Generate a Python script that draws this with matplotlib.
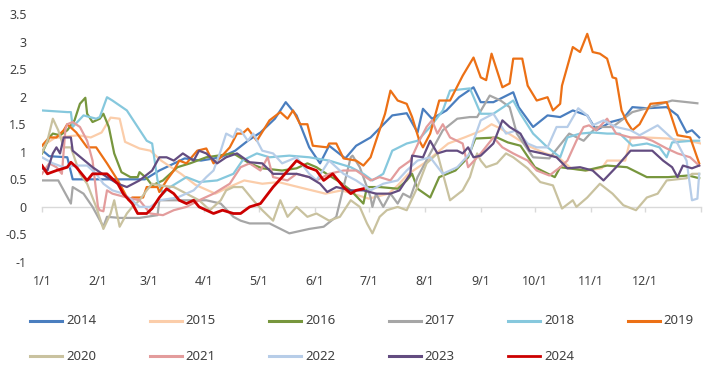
import matplotlib
matplotlib.use('Agg')
import matplotlib.pyplot as plt
from matplotlib.lines import Line2D

month_labels = ['1/1', '2/1', '3/1', '4/1', '5/1', '6/1', '7/1', '8/1',
                '9/1', '10/1', '11/1', '12/1']
month_start = [0, 31, 59, 90, 120, 151, 181, 212, 243, 273, 304, 334]

# day of year / value pairs per year
d2014 = [0, 4, 14, 17, 21, 57, 65, 79, 88, 99, 107, 114, 121, 129, 135, 141, 148, 154, 159, 168,
         174, 182, 194, 202, 208, 211, 216, 224, 231, 239, 243, 250, 261, 264, 272, 280, 287, 294,
         302, 307, 315, 322, 327, 335, 346, 352, 357, 360, 364]
v2014 = [1.03, 0.92, 0.9, 0.5, 0.5, 0.5, 0.66, 0.88, 0.84, 0.9, 1.02, 1.2, 1.35, 1.6, 1.9, 1.66,
         1.08, 0.79, 1.11, 0.88, 1.11, 1.26, 1.66, 1.7, 1.35, 1.78, 1.6, 1.75, 1.99, 2.17, 1.9, 1.9,
         2.08, 1.81, 1.45, 1.66, 1.63, 1.75, 1.66, 1.39, 1.54, 1.6, 1.81, 1.79, 1.81, 1.66, 1.35,
         1.39, 1.26]

d2015 = [0, 7, 20, 27, 33, 38, 43, 46, 54, 60, 66, 77, 85, 96, 103, 112, 122, 131, 142, 157, 166,
         181, 192, 197, 203, 212, 225, 234, 244, 249, 254, 262, 269, 279, 286, 293, 302, 310, 313,
         323, 326, 334, 347, 358, 365]
v2015 = [1.1, 1.25, 1.3, 1.26, 1.35, 1.62, 1.6, 1.18, 1.06, 1.02, 0.84, 0.6, 0.4, 0.24, 0.35, 0.48,
         0.42, 0.45, 0.36, 0.24, 0.3, 0.15, 0.24, 0.39, 0.6, 0.8, 1.15, 1.26, 1.39, 1.5, 1.42, 1.26,
         1.11, 0.97, 0.9, 0.7, 0.66, 0.7, 0.84, 0.84, 1.24, 1.26, 1.24, 1.2, 1.15]

d2016 = [0, 4, 6, 10, 14, 18, 21, 24, 25, 28, 32, 34, 37, 40, 44, 49, 53, 54, 58, 61, 67, 75, 82,
         91, 106, 115, 122, 133, 141, 147, 152, 159, 165, 171, 178, 180, 187, 197, 202, 205, 208,
         215, 220, 229, 236, 240, 252, 258, 265, 273, 284, 287, 301, 313, 324, 335, 347, 358, 364]
v2016 = [0.97, 1.26, 1.33, 1.3, 1.39, 1.57, 1.87, 1.98, 1.69, 1.54, 1.6, 1.69, 1.45, 0.97, 0.63,
         0.54, 0.54, 0.63, 0.52, 0.39, 0.48, 0.72, 0.79, 0.9, 0.97, 0.79, 0.7, 0.66, 0.7, 0.79, 0.72,
         0.57, 0.45, 0.3, 0.06, 0.36, 0.36, 0.33, 0.48, 0.6, 0.33, 0.17, 0.54, 0.66, 0.9, 1.24, 1.26,
         1.17, 1.11, 0.72, 0.54, 0.72, 0.66, 0.75, 0.72, 0.54, 0.54, 0.57, 0.52]

d2017 = [0, 9, 16, 17, 23, 28, 34, 36, 43, 54, 64, 65, 91, 99, 106, 110, 115, 126, 137, 148, 156,
         163, 167, 171, 172, 176, 180, 182, 183, 185, 189, 193, 197, 200, 204, 208, 215, 222, 230,
         237, 241, 248, 254, 259, 263, 272, 281, 292, 300, 307, 316, 327, 335, 349, 363]
v2017 = [0.48, 0.48, 0.06, 0.36, 0.24, 0.0, -0.36, -0.18, -0.2, -0.2, -0.15, 0.12, 0.12, 0.06,
         -0.18, -0.25, -0.3, -0.3, -0.48, -0.4, -0.36, -0.18, 0.36, 0.9, 0.93, 0.72, 0.36, 0.17, 0.0,
         0.24, 0.0, 0.24, 0.06, 0.24, 0.17, 0.54, 0.97, 1.39, 1.6, 1.63, 1.63, 2.02, 1.93, 1.81, 1.33,
         0.9, 0.88, 1.33, 1.2, 1.45, 1.45, 1.72, 1.79, 1.93, 1.88]

d2018 = [0, 14, 16, 17, 23, 30, 32, 36, 39, 47, 58, 61, 64, 67, 71, 80, 87, 97, 106, 111, 119, 126,
         137, 148, 159, 171, 178, 183, 189, 194, 202, 208, 215, 222, 226, 237, 243, 250, 261, 265,
         272, 280, 287, 291, 298, 305, 313, 320, 327, 335, 342, 346, 349, 360, 364]
v2018 = [1.75, 1.72, 1.72, 1.45, 1.66, 1.6, 1.63, 1.99, 1.93, 1.75, 1.2, 1.15, 0.48, 0.24, 0.36,
         0.54, 0.45, 0.48, 0.6, 0.84, 0.97, 0.9, 0.93, 0.9, 0.84, 0.72, 0.6, 0.48, 0.6, 1.02, 1.15,
         1.2, 1.45, 1.75, 2.11, 2.15, 1.69, 1.69, 1.93, 1.69, 1.33, 1.08, 0.9, 1.26, 1.33, 1.35, 1.33,
         1.33, 1.11, 1.15, 1.08, 0.9, 1.17, 1.2, 1.2]

d2019 = [0, 4, 8, 12, 14, 19, 25, 30, 36, 42, 45, 48, 50, 56, 58, 64, 65, 69, 73, 76, 80, 86, 91,
         95, 99, 104, 108, 111, 114, 119, 126, 132, 136, 139, 143, 147, 150, 158, 159, 163, 167, 174,
         178, 182, 185, 190, 193, 197, 202, 205, 209, 211, 215, 220, 226, 233, 239, 243, 246, 249,
         255, 259, 261, 266, 269, 274, 280, 283, 287, 288, 294, 298, 302, 305, 309, 313, 316, 318,
         321, 324, 327, 331, 337, 346, 352, 359, 364]
v2019 = [1.11, 1.26, 1.26, 1.39, 1.5, 1.35, 1.08, 1.08, 0.79, 0.48, 0.3, 0.12, 0.17, 0.17, 0.36,
         0.36, 0.27, 0.48, 0.66, 0.84, 0.79, 1.02, 1.06, 0.79, 0.9, 1.08, 1.33, 1.33, 1.42, 1.2, 1.57,
         1.72, 1.6, 1.75, 1.5, 1.5, 1.11, 1.08, 1.15, 1.15, 0.88, 0.84, 0.75, 0.9, 1.2, 1.69, 2.11,
         1.93, 1.87, 1.63, 1.2, 1.08, 1.33, 1.93, 1.93, 2.38, 2.71, 2.35, 2.3, 2.78, 2.17, 2.24, 2.69,
         2.69, 2.2, 1.93, 1.99, 1.75, 1.87, 2.2, 2.9, 2.81, 3.14, 2.81, 2.78, 2.69, 2.35, 2.33, 1.75,
         1.54, 1.39, 1.5, 1.87, 1.9, 1.3, 1.26, 0.79]

d2020 = [0, 3, 6, 9, 12, 16, 21, 25, 30, 34, 38, 40, 43, 47, 50, 54, 58, 61, 65, 73, 80, 87, 93,
         99, 102, 106, 111, 117, 122, 128, 132, 136, 141, 147, 152, 159, 165, 171, 176, 180, 183,
         187, 191, 197, 202, 208, 213, 219, 226, 233, 237, 241, 243, 246, 252, 257, 261, 269, 276,
         283, 288, 294, 296, 302, 309, 316, 322, 329, 335, 341, 346, 357, 360, 364]
v2020 = [0.99, 1.2, 1.6, 1.39, 1.08, 1.08, 0.6, 0.42, 0.0, -0.4, -0.12, 0.12, -0.36, -0.12, 0.0,
         0.12, 0.3, 0.42, 0.39, 0.36, 0.24, 0.12, -0.06, 0.12, 0.3, 0.36, 0.36, 0.12, -0.06, -0.25,
         0.12, -0.18, 0.0, -0.18, -0.12, -0.25, -0.18, 0.12, 0.0, -0.3, -0.48, -0.18, -0.06, 0.0,
         -0.06, 0.36, 0.79, 0.97, 0.12, 0.3, 0.54, 0.97, 0.84, 0.72, 0.79, 0.97, 0.9, 0.7, 0.45,
         0.39, -0.03, 0.12, 0.0, 0.17, 0.42, 0.24, 0.03, -0.06, 0.17, 0.24, 0.48, 0.52, 0.6, 0.6]

d2021 = [0, 4, 8, 11, 13, 14, 17, 21, 25, 28, 31, 32, 34, 36, 39, 47, 54, 60, 67, 73, 80, 87, 95,
         104, 110, 115, 121, 125, 128, 136, 141, 148, 152, 159, 167, 174, 182, 187, 193, 198, 204,
         209, 213, 216, 219, 222, 226, 233, 236, 243, 250, 255, 261, 269, 274, 281, 287, 291, 296,
         300, 303, 307, 313, 318, 326, 333, 338, 346, 352, 359, 364]
v2021 = [0.6, 0.79, 0.72, 0.6, 1.42, 1.5, 1.54, 1.45, 1.2, 0.84, 0.0, -0.06, -0.08, 0.3, 0.24,
         0.17, 0.12, -0.12, -0.15, -0.06, 0.0, 0.12, 0.24, 0.42, 0.72, 0.79, 0.66, 0.9, 0.54, 0.48,
         0.6, 0.54, 0.48, 0.6, 0.66, 0.66, 0.48, 0.54, 0.48, 0.7, 0.84, 1.2, 1.45, 1.57, 1.33, 1.5,
         1.26, 1.15, 0.72, 0.97, 1.26, 1.08, 0.97, 0.84, 0.66, 0.57, 0.72, 0.84, 1.2, 1.45, 1.48,
         1.39, 1.6, 1.33, 1.26, 1.26, 1.2, 1.06, 0.97, 0.9, 0.75]

d2022 = [0, 6, 12, 19, 25, 30, 34, 39, 45, 50, 54, 60, 65, 75, 84, 91, 95, 99, 102, 106, 108, 110,
         114, 117, 122, 128, 133, 141, 148, 152, 159, 167, 174, 182, 189, 197, 202, 208, 215, 222,
         230, 237, 239, 243, 250, 257, 263, 269, 274, 280, 285, 291, 297, 302, 305, 311, 318, 326,
         331, 341, 346, 352, 357, 360, 363, 364]
v2022 = [0.9, 0.79, 0.72, 0.75, 0.75, 0.6, 0.42, 0.3, 0.24, 0.12, 0.0, 0.0, 0.12, 0.17, 0.3, 0.54,
         0.66, 1.02, 1.33, 1.26, 1.42, 1.39, 1.2, 1.33, 1.02, 0.97, 0.79, 0.9, 0.6, 0.48, 0.84, 0.6,
         0.48, 0.3, 0.42, 0.48, 0.66, 0.84, 0.9, 0.6, 0.72, 0.97, 1.2, 1.57, 1.69, 1.33, 1.39, 1.15,
         1.08, 1.08, 1.45, 1.45, 1.79, 1.66, 1.48, 1.57, 1.45, 1.39, 1.3, 1.48, 1.33, 1.15, 0.84,
         0.12, 0.15, 0.6]

d2023 = [0, 3, 6, 8, 10, 12, 16, 17, 28, 36, 42, 47, 54, 61, 65, 69, 73, 78, 84, 87, 91, 97, 102,
         108, 115, 122, 128, 141, 148, 154, 158, 163, 171, 178, 185, 193, 198, 204, 205, 211, 215,
         219, 224, 230, 233, 236, 239, 243, 250, 255, 259, 265, 270, 277, 285, 291, 298, 305, 311,
         318, 326, 331, 338, 344, 349, 352, 355, 360, 364]
v2023 = [0.7, 0.66, 0.97, 1.08, 0.97, 1.26, 1.26, 1.02, 0.72, 0.54, 0.42, 0.36, 0.48, 0.66, 0.9,
         0.9, 0.84, 0.97, 0.84, 1.02, 0.97, 0.79, 0.9, 0.97, 0.81, 0.79, 0.6, 0.6, 0.54, 0.42, 0.27,
         0.36, 0.3, 0.3, 0.24, 0.24, 0.3, 0.6, 0.93, 0.9, 1.2, 0.97, 1.02, 1.02, 0.97, 1.08, 0.9,
         0.93, 1.15, 1.57, 1.45, 1.33, 1.02, 0.97, 0.9, 0.7, 0.72, 0.66, 0.48, 0.72, 1.02, 1.02,
         1.02, 0.84, 0.72, 0.54, 0.75, 0.7, 0.75]

d2024 = [0, 3, 8, 14, 16, 19, 25, 28, 36, 42, 45, 50, 53, 58, 61, 65, 69, 73, 76, 80, 84, 87, 95,
         100, 106, 110, 115, 121, 128, 133, 141, 147, 152, 156, 161, 167, 171, 174, 178]
v2024 = [0.75, 0.6, 0.66, 0.72, 0.81, 0.72, 0.48, 0.6, 0.6, 0.42, 0.24, 0.06, -0.12, -0.12, -0.03,
         0.17, 0.33, 0.24, 0.12, 0.06, 0.12, 0.0, -0.12, -0.06, -0.12, -0.12, 0.0, 0.06, 0.36, 0.54,
         0.84, 0.72, 0.66, 0.48, 0.6, 0.36, 0.24, 0.3, 0.33]

years = ['2014', '2015', '2016', '2017', '2018', '2019', '2020', '2021', '2022', '2023', '2024']
days = [d2014, d2015, d2016, d2017, d2018, d2019, d2020, d2021, d2022, d2023, d2024]
vals = [v2014, v2015, v2016, v2017, v2018, v2019, v2020, v2021, v2022, v2023, v2024]
colors = ['#4A7EBF', '#FBCDAA', '#77963D', '#A6A6A6', '#86C8DD', '#EC7015',
          '#C9C29F', '#E39C9C', '#B7CDE8', '#634C80', '#CC0000']

W, H = 704, 367
fig = plt.figure(figsize=(W / 100, H / 100), dpi=100)
ax = fig.add_axes([42 / W, 1 - 262 / H, 659 / W, 248 / H])

for yr, d, v, c in zip(years, days, vals, colors):
    lw = 2.0 if yr == '2024' else 1.6
    ax.plot(d, v, color=c, lw=lw, solid_joinstyle='round', zorder=3)

ax.set_xlim(0, 365)
ax.set_ylim(-1, 3.5)
yt = [-1 + 0.5 * i for i in range(10)]
ax.set_yticks(yt)
ax.set_yticklabels([f'{t:g}' for t in yt])
ax.set_xticks(month_start)
ax.set_xticklabels(month_labels)

for s in ['left', 'right', 'top', 'bottom']:
    ax.spines[s].set_visible(False)

ax.tick_params(axis='y', length=0, pad=11, labelsize=9, labelcolor='#404040')
ax.tick_params(axis='x', length=0, pad=9.5, labelsize=9, labelcolor='#404040')
for lab in ax.get_xticklabels() + ax.get_yticklabels():
    lab.set_fontfamily(['Noto Sans', 'DejaVu Sans'])

# category axis crossing at zero
zero_ax = ax.secondary_xaxis(1 / 4.5)
zero_ax.set_xticks(month_start + [365])
zero_ax.tick_params(axis='x', length=3.6, width=1.0, color='#D9D9D9', labelbottom=False)
zero_ax.spines['bottom'].set_color('#D9D9D9')
zero_ax.spines['bottom'].set_linewidth(1.0)

# legend, 6 per row
for i, (yr, c) in enumerate(zip(years, colors)):
    row, col = divmod(i, 6)
    x0 = 30 + 119.5 * col
    y0 = 321 + 35 * row
    lw = 2.0 if yr == '2024' else 2.2
    fig.add_artist(Line2D([x0 / W, (x0 + 32) / W], [1 - y0 / H, 1 - y0 / H], color=c, lw=lw))
    fig.text((x0 + 36) / W, 1 - y0 / H, yr, va='center', ha='left', fontsize=9.5,
             color='#404040', family=['Noto Sans', 'DejaVu Sans'])

fig.savefig('out.png', dpi=100)
